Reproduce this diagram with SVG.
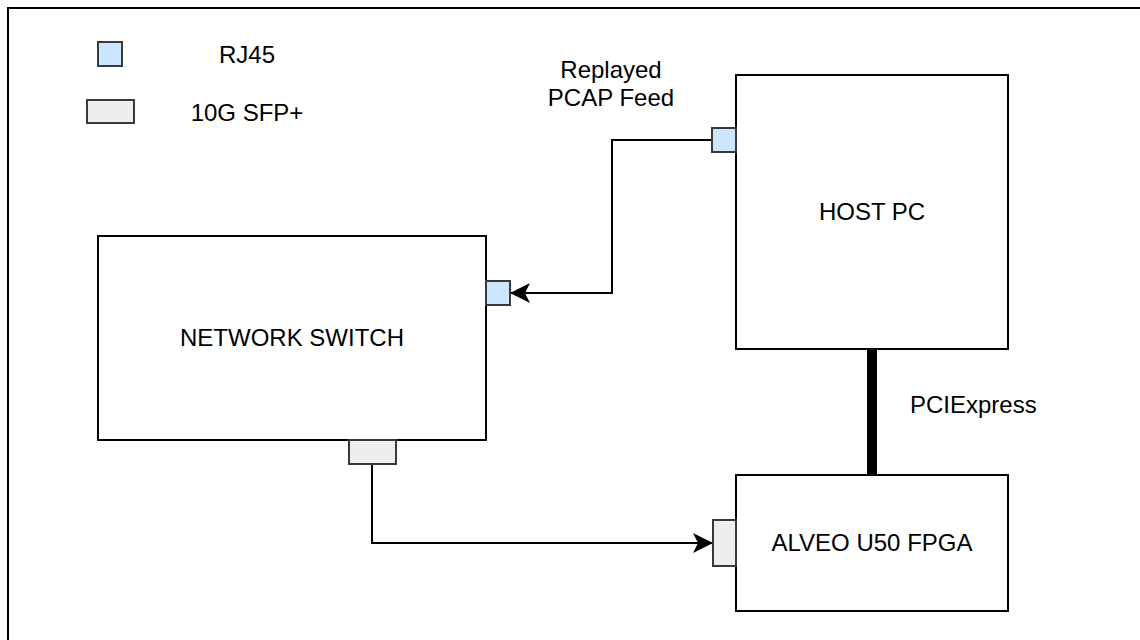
<svg xmlns="http://www.w3.org/2000/svg" width="1140" height="640" viewBox="0 0 1140 640">
<style>
.box{fill:#ffffff;stroke:#000000;stroke-width:2}
.rj{fill:#cce5ff;stroke:#36393d;stroke-width:2}
.sfp{fill:#eeeeee;stroke:#36393d;stroke-width:2}
.lbl{font-family:"Liberation Sans",Arial,sans-serif;font-size:24px;fill:#000000}
.mid{text-anchor:middle}
.wire{fill:none;stroke:#000000;stroke-width:2}
</style>
<defs>
<marker id="arr" markerUnits="userSpaceOnUse" markerWidth="20" markerHeight="20" refX="20" refY="10" orient="auto">
<path d="M0,0 L20,10 L0,20 L5,10 Z" fill="#000000"/>
</marker>
</defs>
<rect x="0" y="0" width="1140" height="640" fill="#ffffff"/>
<rect x="8" y="8" width="1200" height="700" fill="none" stroke="#000000" stroke-width="2"/>
<g id="legend">
<rect class="rj" x="98" y="42" width="24" height="24"/>
<text class="lbl mid" x="247" y="63">RJ45</text>
<rect class="sfp" x="87" y="100" width="47" height="23"/>
<text class="lbl mid" x="247" y="121">10G SFP+</text>
</g>
<g id="connectors">
<path class="wire" d="M712,140 H612 V293 H510" marker-end="url(#arr)"/>
<path class="wire" d="M372,464 V543 H713" marker-end="url(#arr)"/>
<line x1="872" y1="349" x2="872" y2="475" stroke="#000000" stroke-width="10"/>
<text class="lbl mid" x="611" y="78">Replayed</text>
<text class="lbl mid" x="611" y="106">PCAP Feed</text>
<text class="lbl" x="910" y="413">PCIExpress</text>
</g>
<g id="switch">
<rect class="box" x="98" y="236" width="388" height="204"/>
<text class="lbl mid" x="292" y="346">NETWORK SWITCH</text>
<rect class="rj" x="486" y="281" width="24" height="24"/>
<rect class="sfp" x="349" y="440" width="47" height="24"/>
</g>
<g id="host">
<rect class="box" x="736" y="75" width="272" height="274"/>
<text class="lbl mid" x="872" y="220">HOST PC</text>
<rect class="rj" x="712" y="128" width="24" height="24"/>
</g>
<g id="alveo">
<rect class="box" x="736" y="475" width="272" height="136"/>
<text class="lbl mid" x="872" y="551">ALVEO U50 FPGA</text>
<rect class="sfp" x="713" y="520" width="23" height="46"/>
</g>
</svg>
